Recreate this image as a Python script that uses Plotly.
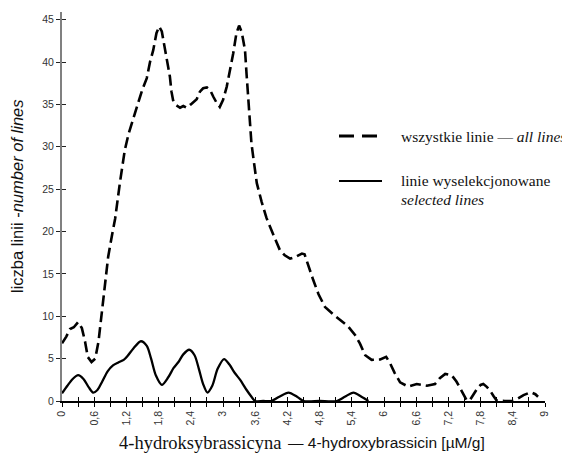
import plotly.graph_objects as go

# ---- data -------------------------------------------------------------
all_x = [0.00, 0.08, 0.15, 0.22, 0.30, 0.37, 0.43, 0.48, 0.55, 0.62, 0.68, 0.74, 0.80, 0.86, 0.93, 0.99,
         1.08, 1.17, 1.24, 1.30, 1.36, 1.42, 1.50, 1.58, 1.64, 1.70, 1.76, 1.81, 1.86, 1.92, 1.97, 2.01,
         2.04, 2.07, 2.13, 2.20, 2.26, 2.32, 2.40, 2.45, 2.51, 2.57, 2.63, 2.70, 2.76, 2.82, 2.88, 2.94,
         3.00, 3.07, 3.13, 3.19, 3.25, 3.30, 3.35, 3.41, 3.44, 3.47, 3.50, 3.53, 3.58, 3.63, 3.72, 3.81,
         3.90, 3.98, 4.06, 4.15, 4.25, 4.35, 4.47, 4.52, 4.56, 4.62, 4.68, 4.78, 4.90, 5.06, 5.18, 5.33,
         5.46, 5.55, 5.65, 5.77, 5.93, 6.04, 6.11, 6.20, 6.30, 6.45, 6.61, 6.80, 6.95, 7.04, 7.14, 7.20,
         7.26, 7.35, 7.42, 7.48, 7.54, 7.60, 7.67, 7.73, 7.80, 7.85, 7.91, 7.97, 8.04, 8.10, 8.25, 8.41,
         8.50, 8.60, 8.70, 8.75, 8.82, 8.87]
all_y = [6.8, 7.6, 8.5, 8.7, 9.3, 8.6, 7.0, 5.2, 4.6, 5.0, 7.0, 10.4, 13.8, 17.0, 19.5, 21.5,
         25.8, 29.6, 31.5, 32.8, 34.0, 35.2, 36.8, 38.1, 40.0, 41.4, 43.4, 44.2, 43.6, 41.4, 39.5, 38.3,
         36.5, 35.5, 34.9, 34.6, 34.8, 34.6, 35.0, 35.3, 35.6, 36.5, 36.9, 37.0, 36.7, 35.9, 35.2, 34.7,
         35.5, 37.1, 39.0, 41.0, 43.4, 44.3, 43.5, 41.4, 38.5, 35.5, 32.8, 30.4, 28.0, 25.7, 23.5, 21.6,
         20.2, 19.0, 17.8, 17.2, 16.8, 17.0, 17.4, 17.3, 16.5, 15.4, 14.3, 12.6, 11.1, 10.2, 9.6, 8.8,
         7.8, 6.8, 5.4, 4.85, 4.9, 5.2, 4.5, 3.3, 2.2, 1.7, 2.0, 1.8, 2.0, 2.7, 3.2, 3.15,
         3.05, 2.3, 1.5, 0.7, 0.1, 0.1, 0.8, 1.4, 1.9, 2.0, 1.7, 1.3, 0.6, 0.05, 0.0, 0.0,
         0.3, 0.7, 0.95, 1.0, 0.8, 0.5]

sel_x = [0.00, 0.10, 0.20, 0.30, 0.40, 0.50, 0.58, 0.66, 0.75, 0.85, 0.95, 1.05, 1.15, 1.22, 1.33, 1.47,
         1.58, 1.66, 1.75, 1.86, 1.98, 2.08, 2.17, 2.26, 2.37, 2.47, 2.55, 2.63, 2.71, 2.80, 2.90, 3.02,
         3.12, 3.22, 3.32, 3.44, 3.52, 3.60, 3.75, 3.90, 4.05, 4.22, 4.38, 4.50, 4.80, 5.12, 5.27, 5.43,
         5.58, 5.71]
sel_y = [0.9, 1.8, 2.6, 3.05, 2.6, 1.6, 1.0, 1.3, 2.3, 3.5, 4.2, 4.55, 4.85, 5.3, 6.2, 7.05,
         6.5, 5.0, 3.0, 1.9, 2.8, 3.9, 4.6, 5.5, 6.05, 5.4, 3.8, 2.0, 1.0, 1.8, 3.8, 4.95,
         4.3, 3.3, 2.5, 1.3, 0.6, 0.0, 0.0, 0.0, 0.5, 1.0, 0.5, 0.0, 0.0, 0.0, 0.5, 1.0,
         0.5, 0.0]

x_tick_vals = [round(i * 0.3, 1) for i in range(31)]
x_tick_labels = ["0", "", "0,6", "", "1,2", "", "1,8", "", "2,4", "", "3", "", "3,6", "", "4,2", "",
                 "4,8", "", "5,4", "", "6", "", "6,6", "", "7,2", "", "7,8", "", "8,4", "", "9"]
y_tick_vals = [0, 5, 10, 15, 20, 25, 30, 35, 40, 45]

# ---- figure -----------------------------------------------------------
# The page body has an 8px default margin, so the figure is made 8px
# smaller and its margins are reduced accordingly.
OFF = 8
fig = go.Figure()

fig.add_trace(go.Scatter(x=all_x, y=all_y, mode="lines", name="wszystkie linie — all lines",
                         line=dict(color="black", width=2.6, dash="11px,5px"),
                         showlegend=False, hoverinfo="skip"))
fig.add_trace(go.Scatter(x=sel_x, y=sel_y, mode="lines", name="linie wyselekcjonowane",
                         line=dict(color="black", width=2.3, shape="spline", smoothing=0.8),
                         showlegend=False, hoverinfo="skip"))
# helper trace so the overlay axes (inner tick halves) are drawn
fig.add_trace(go.Scatter(x=[None], y=[None], xaxis="x2", yaxis="y2", showlegend=False,
                         hoverinfo="skip"))

tickfont = dict(family="Liberation Sans, Arial, sans-serif", size=10.5, color="#333333")
xr = [0, 9]
yr = [0, 45.9]

fig.update_layout(
    width=570 - OFF, height=457 - OFF,
    margin=dict(l=62 - OFF, r=25, t=12 - OFF, b=56),
    paper_bgcolor="white", plot_bgcolor="white",
    xaxis=dict(range=xr, tickmode="array", tickvals=x_tick_vals, ticktext=x_tick_labels,
               tickangle=-90, ticks="outside", ticklen=4, tickwidth=1, tickcolor="black",
               showline=True, linecolor="black", linewidth=1.5, showgrid=False, zeroline=False,
               tickfont=tickfont, fixedrange=True),
    yaxis=dict(range=yr, tickmode="array", tickvals=y_tick_vals,
               ticks="outside", ticklen=4, tickwidth=1, tickcolor="#222222",
               showline=True, linecolor="#808080", linewidth=2, showgrid=False, zeroline=False,
               tickfont=tickfont, fixedrange=True),
    xaxis2=dict(range=xr, overlaying="x", anchor="y", side="bottom", tickmode="array",
                tickvals=x_tick_vals, ticks="inside", ticklen=4, tickwidth=1, tickcolor="black",
                showticklabels=False, showline=False, showgrid=False, zeroline=False),
    yaxis2=dict(range=yr, overlaying="y", anchor="x", side="left", tickmode="array",
                tickvals=y_tick_vals, ticks="inside", ticklen=4, tickwidth=1, tickcolor="#222222",
                showticklabels=False, showline=False, showgrid=False, zeroline=False),
    showlegend=False,
)

serif = "Liberation Serif, Times New Roman, serif"
sans = "Liberation Sans, Arial, sans-serif"


def px_x(p):
    return (p - 62) / 483.0


def px_y(p):
    return (401 - p) / 389.0


# axis titles
fig.add_annotation(xref="paper", yref="paper", x=px_x(17), y=px_y(196), showarrow=False,
                   textangle=-90, xanchor="center", yanchor="middle",
                   text="liczba linii -<i>number of lines</i>",
                   font=dict(family=sans, size=16.5, color="#111111"))
fig.add_annotation(xref="paper", yref="paper", x=px_x(283), y=px_y(443), showarrow=False,
                   xanchor="right", yanchor="middle",
                   text="4-hydroksybrassicyna",
                   font=dict(family=serif, size=18.5, color="#111111"))
fig.add_annotation(xref="paper", yref="paper", x=px_x(286), y=px_y(442), showarrow=False,
                   xanchor="left", yanchor="middle",
                   text="— 4-hydroxybrassicin [µM/g]",
                   font=dict(family=sans, size=15.5, color="#111111"))

# legend (custom layout)
fig.add_shape(type="line", xref="paper", yref="paper", x0=px_x(339), x1=px_x(377),
              y0=px_y(136), y1=px_y(136), line=dict(color="black", width=3, dash="15px,8px"))
fig.add_shape(type="line", xref="paper", yref="paper", x0=px_x(339), x1=px_x(382),
              y0=px_y(181), y1=px_y(181), line=dict(color="black", width=2))
fig.add_annotation(xref="paper", yref="paper", x=px_x(399), y=px_y(136), showarrow=False,
                   xanchor="left", yanchor="middle", align="left",
                   text="wszystkie linie — <i>all lines</i>",
                   font=dict(family=serif, size=15.5, color="#111111"))
fig.add_annotation(xref="paper", yref="paper", x=px_x(399), y=px_y(181), showarrow=False,
                   xanchor="left", yanchor="middle", align="left",
                   text="linie wyselekcjonowane",
                   font=dict(family=serif, size=15.5, color="#111111"))
fig.add_annotation(xref="paper", yref="paper", x=px_x(399), y=px_y(199), showarrow=False,
                   xanchor="left", yanchor="middle", align="left",
                   text="<i>selected lines</i>",
                   font=dict(family=serif, size=15.5, color="#111111"))

fig.write_html("out.html")
